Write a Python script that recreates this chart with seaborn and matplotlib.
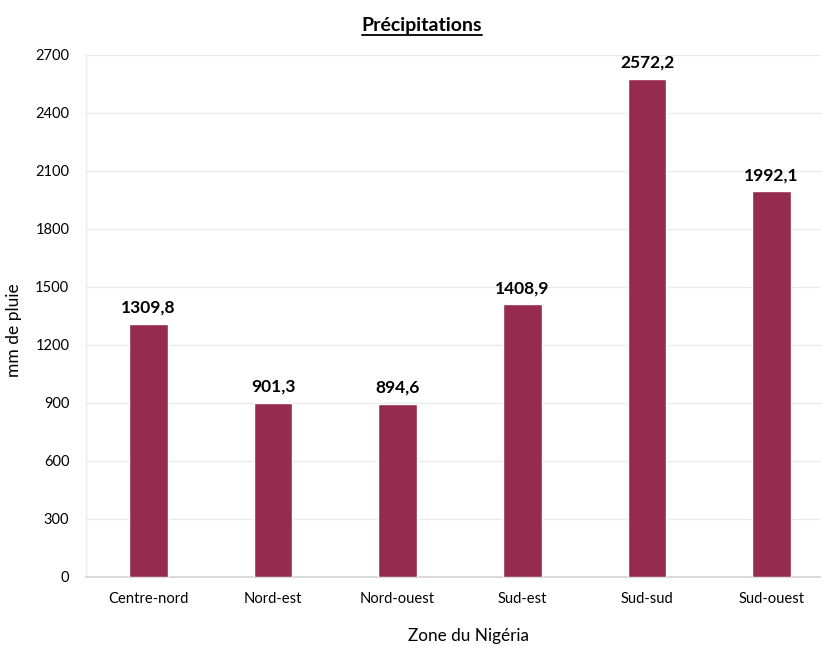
import matplotlib
matplotlib.use("Agg")
import matplotlib.pyplot as plt
import seaborn as sns
import pandas as pd

zones = ["Centre-nord", "Nord-est", "Nord-ouest", "Sud-est", "Sud-sud", "Sud-ouest"]
rainfall = [1309.8, 901.3, 894.6, 1408.9, 2572.2, 1992.1]
y_ticks = [0, 300, 600, 900, 1200, 1500, 1800, 2100, 2400, 2700]

sns.set_theme(style="white")
plt.rcParams["font.family"] = ["Lato", "DejaVu Sans"]

df = pd.DataFrame({"zone": zones, "mm": rainfall})

fig = plt.figure(figsize=(8.21, 6.46), dpi=100)
ax = fig.add_axes([86 / 821, 1 - 577 / 646, (834 - 86) / 821, (577 - 54.5) / 646])

sns.barplot(data=df, x="zone", y="mm", color="#952B4E", saturation=1,
            width=0.31, ax=ax, zorder=3)

ax.set_xlim(-0.5, len(zones) - 0.5)
ax.set_ylim(0, 2700)
ax.set_yticks(y_ticks)
ax.set_yticklabels([str(t) for t in y_ticks])
ax.grid(axis="y", color="#EBEBEB", linewidth=1, zorder=0)
ax.grid(axis="x", visible=False)

for side in ["top", "right"]:
    ax.spines[side].set_visible(False)
ax.spines["left"].set_color("#EBEBEB")
ax.spines["left"].set_linewidth(1)
ax.spines["bottom"].set_color("#D4D4D4")
ax.spines["bottom"].set_linewidth(1.2)

ax.tick_params(axis="y", length=0, pad=12, labelsize=10.5, labelcolor="#000000")
ax.tick_params(axis="x", length=0, pad=11, labelsize=10.6, labelcolor="#000000")

for i, v in enumerate(rainfall):
    ax.annotate(f"{v:.1f}".replace(".", ","), (i, v), xytext=(0, 6),
                textcoords="offset points", ha="center", va="bottom",
                fontsize=12.5, fontweight="bold", color="#000000")

ax.set_xlabel("Zone du Nigéria", fontsize=12.3, color="#000000", va="center")
ax.xaxis.set_label_coords((468 - 86) / 748, -59 / 522.5)
ax.set_ylabel("mm de pluie", fontsize=12.5, color="#000000")
ax.yaxis.set_label_coords(-0.085, 0.472)

title = fig.text(422 / 821, 1 - 25 / 646, "Précipitations", ha="center", va="center",
                 fontsize=14, fontweight="bold", color="#000000")

# underline drawn to the rendered width of the title
fig.canvas.draw()
bb = title.get_window_extent(fig.canvas.get_renderer()).transformed(fig.transFigure.inverted())
y_line = bb.y0 - 1.5 / 646
fig.add_artist(plt.Line2D([bb.x0, bb.x1], [y_line, y_line], color="#000000", linewidth=1.3))

fig.savefig("out.png", dpi=100)
